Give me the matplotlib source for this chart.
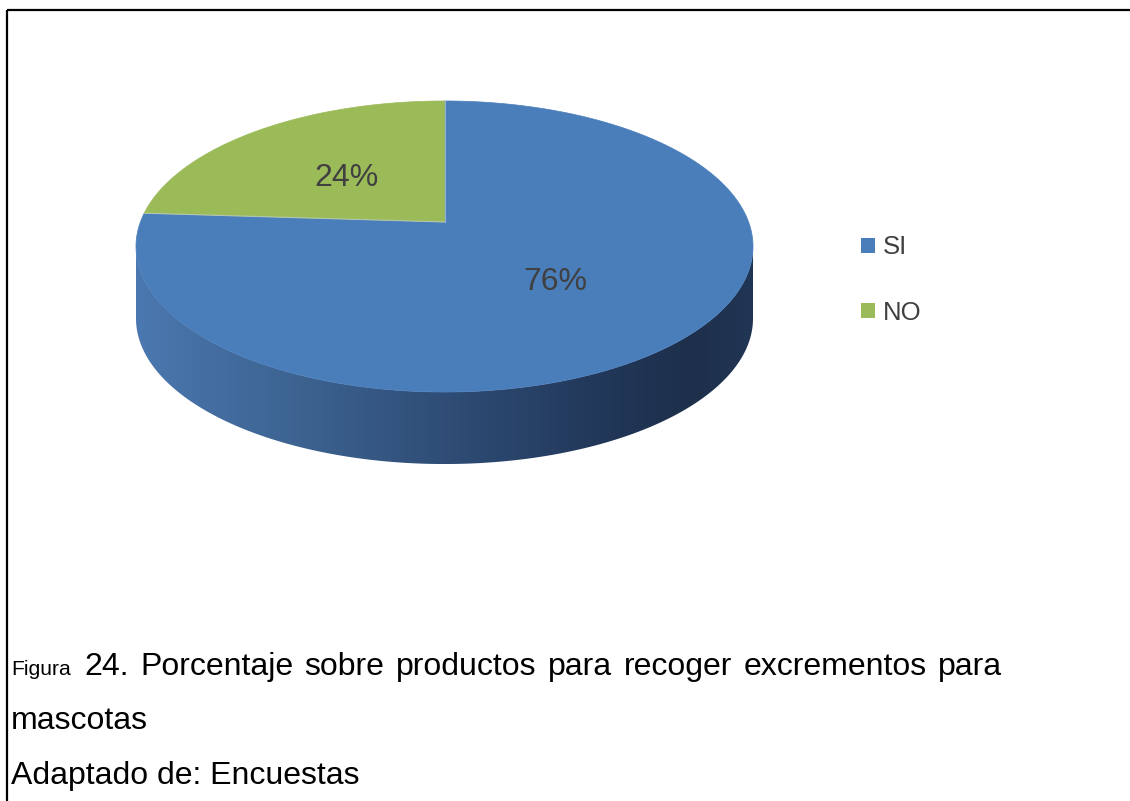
import matplotlib

matplotlib.use("Agg")
import matplotlib.pyplot as plt
import numpy as np
from matplotlib.colors import LinearSegmentedColormap
from matplotlib.patches import Patch, Polygon

# Survey results
labels = ["SI", "NO"]
values = [76, 24]
colors = ["#4a7ebb", "#9bbb59"]

caption_small = "Figura"
caption_line1 = "24. Porcentaje sobre productos para recoger excrementos para"
caption_line2 = "mascotas"
caption_line3 = "Adaptado de: Encuestas"

W, H = 1130, 801

# Perspective view of the pie (screen pixels, y grows downwards)
CX, CY = 444.5, 222.0  # where the pie centre lands on screen
K = 0.1684             # perspective strength
P, Q = 141.4, 304.1    # vertical / horizontal scale
DEPTH = 72.0           # thickness of the disc


def project(theta, r=1.0):
    cx = r * np.cos(theta)
    cy = r * np.sin(theta)
    w = 1.0 + K * cy
    return CX + Q * cx / w, CY - P * cy / w


plt.rcParams["font.family"] = ["Liberation Sans", "DejaVu Sans"]

fig = plt.figure(figsize=(W / 100, H / 100), dpi=100)
ax = fig.add_axes([0, 0, 1, 1])
ax.set_xlim(0, W)
ax.set_ylim(H, 0)
ax.axis("off")

# --- side wall (only the front half is visible) ---
t0 = np.pi + np.arcsin(K)
t1 = 2 * np.pi - np.arcsin(K)
ts = np.linspace(t0, t1, 300)
sx, sy = project(ts)
side_xy = np.vstack([
    np.column_stack([sx, sy]),
    np.column_stack([sx[::-1], sy[::-1] + DEPTH]),
])
side = Polygon(side_xy, closed=True, facecolor="none", edgecolor="none")
ax.add_patch(side)

side_cmap = LinearSegmentedColormap.from_list(
    "side",
    [(0.0, "#4b78b0"), (0.25, "#3d6492"), (0.5, "#2f4d76"),
     (0.75, "#22385a"), (0.9, "#1d2f4a"), (1.0, "#213655")],
)
grad = np.linspace(0, 1, 256).reshape(1, -1)
img = ax.imshow(
    grad,
    cmap=side_cmap,
    extent=(sx.min(), sx.max(), sy.max() + DEPTH, sy.min()),
    aspect="auto",
    zorder=1,
)
img.set_clip_path(side)

# --- top face: slices go clockwise from 12 o'clock ---
total = float(sum(values))
start = np.pi / 2
for lab, val, col in zip(labels, values, colors):
    sweep = 2 * np.pi * val / total
    th = np.linspace(start, start - sweep, 400)
    px, py = project(th)
    pts = np.vstack([[CX, CY], np.column_stack([px, py])])
    ax.add_patch(Polygon(pts, closed=True, facecolor=col, edgecolor=col,
                         linewidth=0.5, zorder=2))

    mx, my = project(start - sweep / 2, r=0.5)
    ax.text(mx, my + 5, "{:.0f}%".format(val), fontsize=23, color="#404040",
            ha="center", va="center", zorder=4)
    start -= sweep

# faint seams between slices
start = np.pi / 2
for val in values:
    ex, ey = project(start)
    ax.plot([CX, ex], [CY, ey], color="#c8d3df", linewidth=0.8, alpha=0.6, zorder=3)
    start -= 2 * np.pi * val / total

# --- legend ---
handles = [Patch(facecolor=c, edgecolor="none") for c in colors]
leg = ax.legend(
    handles, labels,
    loc="center left",
    bbox_to_anchor=(861 / W, 1 - 280 / H),
    frameon=False,
    fontsize=18.5,
    handlelength=0.55,
    handleheight=0.55,
    handletextpad=0.3,
    labelspacing=1.6,
    borderpad=0,
    borderaxespad=0,
)
for t in leg.get_texts():
    t.set_color("#404040")

# --- frame lines (top and left) ---
ax.plot([7, W], [10, 10], color="black", linewidth=1.6, solid_capstyle="butt")
ax.plot([7, 7], [10, H], color="black", linewidth=1.6, solid_capstyle="butt")

# --- caption ---
CAP_SIZE = 23
ax.text(11, 675, caption_small, fontsize=15.2, color="black", va="baseline")

# first caption line is justified between x=84 and the right margin
fig.canvas.draw()
renderer = fig.canvas.get_renderer()
inv = ax.transData.inverted()
words = caption_line1.split()
x_left, x_right = 84.0, 1002.0
word_texts = [ax.text(0, 675, w, fontsize=CAP_SIZE, color="black", va="baseline") for w in words]
widths = []
for t in word_texts:
    bb = t.get_window_extent(renderer=renderer)
    x0 = inv.transform((bb.x0, bb.y0))[0]
    x1 = inv.transform((bb.x1, bb.y0))[0]
    widths.append(x1 - x0)
gap = (x_right - x_left - sum(widths)) / (len(words) - 1)
x = x_left
for t, w in zip(word_texts, widths):
    t.set_x(x)
    x += w + gap

ax.text(11, 729, caption_line2, fontsize=CAP_SIZE, color="black", va="baseline")
ax.text(11, 784, caption_line3, fontsize=CAP_SIZE, color="black", va="baseline")

fig.savefig("out.png", dpi=100)
